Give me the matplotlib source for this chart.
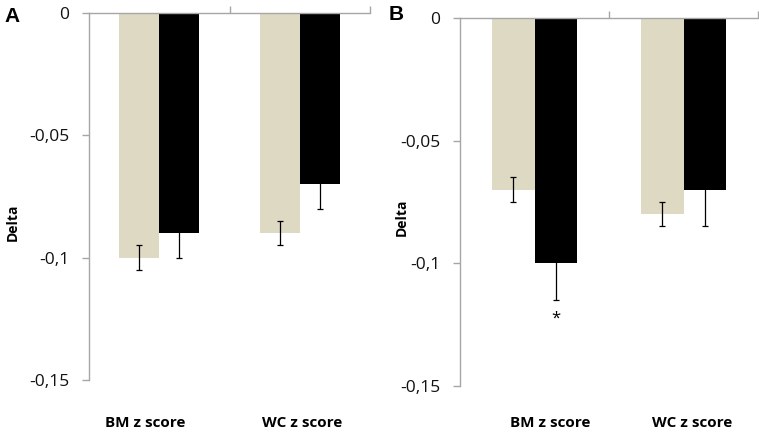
import matplotlib
matplotlib.use("Agg")
import matplotlib.pyplot as plt
import matplotlib.transforms as mtransforms
import numpy as np

plt.rcParams['font.family'] = ['Open Sans', 'DejaVu Sans']

categories = ["BM z score", "WC z score"]
# Panel A
a_beige = [-0.10, -0.09]
a_black = [-0.09, -0.07]
a_beige_err = [0.005, 0.005]
a_black_err = [0.01, 0.01]
# Panel B
b_beige = [-0.07, -0.08]
b_black = [-0.10, -0.07]
b_beige_err = [0.005, 0.005]
b_black_err = [0.015, 0.015]
yticks = [0, -0.05, -0.1, -0.15]
yticklabels = ["0", "-0,05", "-0,1", "-0,15"]

W, H = 759, 432
fig = plt.figure(figsize=(W / 100, H / 100), dpi=100)

beige = "#DDD9C3"
grey = "#A6A6A6"

def make_ax(l, r, t, b):
    return fig.add_axes([l / W, 1 - b / H, (r - l) / W, (b - t) / H])

def draw(ax, v1, v2, e1, e2, label_shift, star=False):
    x = np.arange(1, len(categories) + 1)
    w = 0.285
    ax.bar(x - w / 2, v1, w, color=beige, zorder=2)
    ax.bar(x + w / 2, v2, w, color="black", zorder=2)
    ax.errorbar(x - w / 2, v1, yerr=e1, fmt="none", ecolor="black",
                elinewidth=0.9, capsize=2.5, capthick=0.9, zorder=3)
    ax.errorbar(x + w / 2, v2, yerr=e2, fmt="none", ecolor="black",
                elinewidth=0.9, capsize=2.5, capthick=0.9, zorder=3)
    ax.set_xlim(0.5, len(categories) + 0.5)
    ax.set_ylim(-0.15, 0)
    for s in ["right", "bottom"]:
        ax.spines[s].set_visible(False)
    for s in ["left", "top"]:
        ax.spines[s].set_color(grey)
        ax.spines[s].set_linewidth(1)
    ax.set_yticks(yticks)
    ax.set_yticklabels(yticklabels, fontsize=12.5)
    ax.tick_params(axis="y", colors=grey, labelcolor="#111111", length=5, width=1, pad=9)
    ax.xaxis.set_ticks_position("top")
    ax.set_xticks([1.5, 2.5])
    ax.set_xticklabels([])
    ax.tick_params(axis="x", colors=grey, length=5, width=1, direction="out")
    base = mtransforms.blended_transform_factory(ax.transData, fig.transFigure)
    for xi, c, dx in zip(x, categories, label_shift):
        tr = base + mtransforms.ScaledTranslation(dx / 100, 0, fig.dpi_scale_trans)
        ax.text(xi, 1 - 423 / H, c, transform=tr, ha="center", va="center",
                fontsize=11, fontweight="bold")
    if star:
        ax.text(x[0] + w / 2, -0.1225, "*", ha="center", va="center", fontsize=12)
    return ax

axA = make_ax(89, 370, 13, 380)
draw(axA, a_beige, a_black, a_beige_err, a_black_err, label_shift=(-14, 2))
axB = make_ax(460, 758, 18, 385.7)
draw(axB, b_beige, b_black, b_beige_err, b_black_err, label_shift=(16, 9), star=True)

fig.text(13 / W, 1 - 222 / H, "Delta", rotation=90, ha="center", va="center",
         fontsize=10, fontweight="bold")
fig.text(402 / W, 1 - 217 / H, "Delta", rotation=90, ha="center", va="center",
         fontsize=10, fontweight="bold")
fig.text(12 / W, 1 - 16 / H, "A", ha="center", va="center", fontsize=15, fontweight="bold",
         family="Liberation Sans")
fig.text(396 / W, 1 - 14 / H, "B", ha="center", va="center", fontsize=15, fontweight="bold",
         family="Liberation Sans")

fig.savefig("out.png", dpi=100)
